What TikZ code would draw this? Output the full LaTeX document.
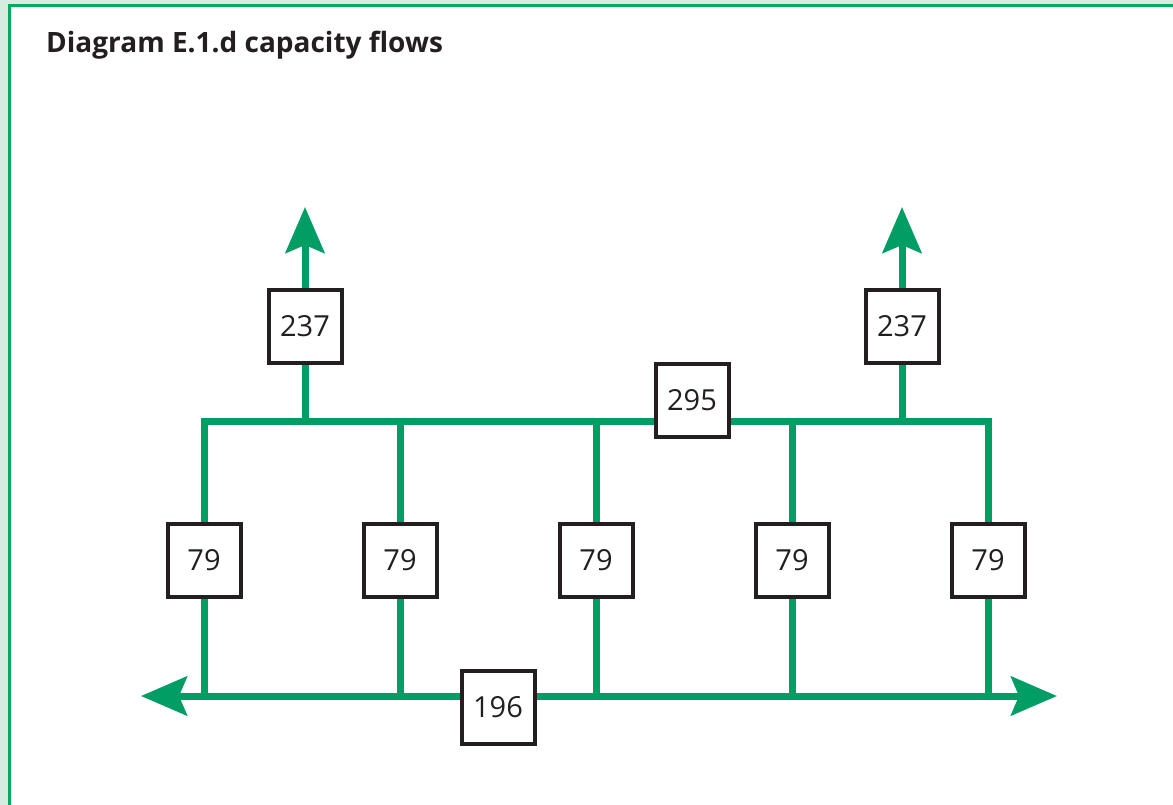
\documentclass[tikz,border=0pt]{standalone}
\usepackage{fontspec}
\setmainfont{Open Sans}
\usetikzlibrary{arrows.meta}
\definecolor{flowgreen}{RGB}{0,158,101}
\definecolor{framegreen}{RGB}{0,172,92}
\definecolor{palegreen}{RGB}{214,236,224}
\definecolor{boxblack}{RGB}{35,31,32}
\begin{document}
\begin{tikzpicture}[x=1pt,y=-1pt,
  flow/.style={draw=flowgreen,line width=7pt},
  flowtip/.style={-{Stealth[length=46pt,width=39pt,inset=8pt]}},
  capbox/.style={draw=boxblack,line width=4pt,fill=white,minimum size=73pt,
    inner sep=0pt,text=boxblack,font=\fontsize{29}{30}\selectfont}]
\useasboundingbox (0,0) rectangle (1173,805);
% frame
\fill[palegreen] (0,0) rectangle (1173,5);
\fill[palegreen] (0,0) rectangle (8,805);
\draw[framegreen,line width=3pt] (9.5,805) -- (9.5,6) -- (1173,6);
\node[anchor=base west,inner sep=0pt,text=boxblack,
  font=\bfseries\fontsize{28}{30}\selectfont] (title) at (46,53)
  {Diagram E.1.d capacity flows};
% junctions
\foreach \i/\x in {1/204,2/400,3/596,4/792,5/988}{
  \coordinate (top\i) at (\x,421);
  \coordinate (bot\i) at (\x,696);
}
\coordinate (outW) at (305,421);
\coordinate (outE) at (902,421);
\coordinate (tipN1) at (305,207);
\coordinate (tipN2) at (902,207);
\coordinate (tipW) at (141,696);
\coordinate (tipE) at (1057,696);
% flows
\draw[flow,flowtip] (outW) -- (tipN1);
\draw[flow,flowtip] (outE) -- (tipN2);
\draw[flow,flowtip] (bot1) -- (tipW);
\draw[flow,flowtip] (bot5) -- (tipE);
\draw[flow] (bot1) -- (top1) -- (top5) -- (bot5);
\draw[flow] (bot1) -- (bot5);
\foreach \i in {2,3,4}
  \draw[flow] (top\i) -- (bot\i);
% capacities
\foreach \i/\x in {1/204,2/400,3/596,4/792,5/988}
  \node[capbox] (branch\i) at (\x,560) {79};
\node[capbox] (exitW) at (305,326) {237};
\node[capbox] (exitE) at (902,326) {237};
\node[capbox] (upper) at (692,400) {295};
\node[capbox] (lower) at (498,707) {196};
\end{tikzpicture}
\end{document}
